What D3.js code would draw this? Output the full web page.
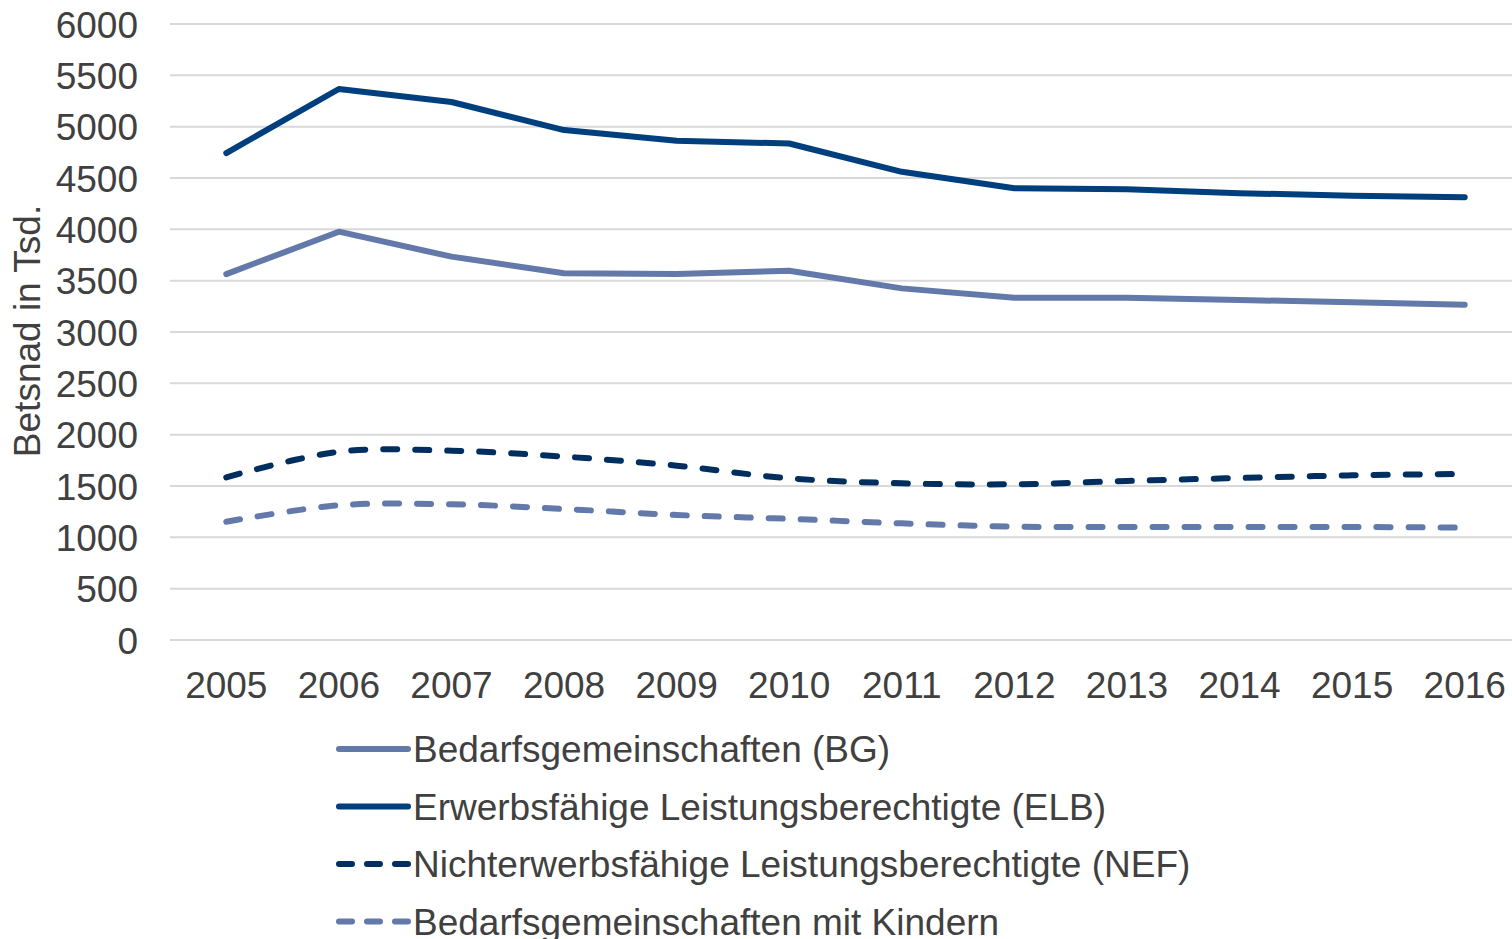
<!DOCTYPE html>
<html>
<head>
<meta charset="utf-8">
<script src="https://cdn.jsdelivr.net/npm/d3@7"></script>
<style>
    body { margin: 0; background: #fff; overflow: hidden; }
    text { font-family: "Liberation Sans", Arial, sans-serif; fill: #404040; }
</style>
</head>
<body>
<div id="chart"></div>
<script>
// Data (values in thousands)
const years = ["2005", "2006", "2007", "2008", "2009", "2010", "2011", "2012", "2013", "2014", "2015", "2016"];
const bg = [3564, 3977, 3734, 3572, 3565, 3597, 3425, 3334, 3334, 3312, 3289, 3266];
const elb = [4743, 5367, 5240, 4967, 4862, 4836, 4560, 4400, 4390, 4352, 4328, 4313];
const nef = [1584, 1834, 1844, 1786, 1698, 1575, 1526, 1517, 1549, 1578, 1604, 1617];
const bgKinder = [1152, 1312, 1322, 1276, 1218, 1180, 1136, 1104, 1101, 1101, 1101, 1094];
const yTicks = [0, 500, 1000, 1500, 2000, 2500, 3000, 3500, 4000, 4500, 5000, 5500, 6000];

const seriesNames = [
    "Bedarfsgemeinschaften (BG)",
    "Erwerbsfähige Leistungsberechtigte (ELB)",
    "Nichterwerbsfähige Leistungsberechtigte (NEF)",
    "Bedarfsgemeinschaften mit Kindern"
];

// Series styling
const series = [
    { name: seriesNames[0], values: bg, color: "#6379aa", dashed: false },
    { name: seriesNames[1], values: elb, color: "#003f7d", dashed: false },
    { name: seriesNames[2], values: nef, color: "#002f5f", dashed: true },
    { name: seriesNames[3], values: bgKinder, color: "#6379aa", dashed: true }
];

const width = 1512, height = 939;
const plot = { left: 170, right: 1521, top: 24, bottom: 640 };
const fontSize = "37px";

const svg = d3.select("#chart").append("svg")
    .attr("width", width)
    .attr("height", height);

// Scales
const x = d3.scaleBand()
    .domain(years)
    .range([plot.left, plot.right]);

const y = d3.scaleLinear()
    .domain([0, 6000])
    .range([plot.bottom, plot.top]);

// Gridlines
svg.append("g")
    .selectAll("line")
    .data(yTicks)
    .enter()
    .append("line")
    .attr("x1", plot.left)
    .attr("x2", plot.right)
    .attr("y1", d => y(d))
    .attr("y2", d => y(d))
    .attr("stroke", "#d9d9d9")
    .attr("stroke-width", 2);

// Y axis labels
const yAxis = d3.axisLeft(y).tickValues(yTicks).tickFormat(d3.format("d")).tickSize(0).tickPadding(0);
const yAxisGroup = svg.append("g")
    .attr("transform", `translate(138,0)`)
    .call(yAxis);
yAxisGroup.select(".domain").remove();
yAxisGroup.selectAll("text")
    .attr("font-size", fontSize)
    .attr("fill", "#404040")
    .attr("font-family", "Liberation Sans, Arial, sans-serif")
    .attr("dy", "0.36em");

// X axis labels
const xAxis = d3.axisBottom(x).tickSize(0).tickPadding(0);
const xAxisGroup = svg.append("g")
    .attr("transform", `translate(0,${plot.bottom})`)
    .call(xAxis);
xAxisGroup.select(".domain").remove();
xAxisGroup.selectAll("text")
    .attr("font-size", fontSize)
    .attr("fill", "#404040")
    .attr("font-family", "Liberation Sans, Arial, sans-serif")
    .attr("y", 45)
    .attr("dy", "0.36em");

// Y axis title
svg.append("text")
    .attr("transform", `translate(40,331) rotate(-90)`)
    .attr("text-anchor", "middle")
    .attr("font-size", "37px")
    .text("Betsnad in Tsd.");

// Lines
const cx = d => x(d) + x.bandwidth() / 2;
const straight = d3.line()
    .x((d, i) => cx(years[i]))
    .y(d => y(d));
const smooth = d3.line()
    .x((d, i) => cx(years[i]))
    .y(d => y(d))
    .curve(d3.curveCatmullRom.alpha(0.5));

svg.append("g")
    .selectAll("path")
    .data(series)
    .enter()
    .append("path")
    .attr("d", d => d.dashed ? smooth(d.values) : straight(d.values))
    .attr("fill", "none")
    .attr("stroke", d => d.color)
    .attr("stroke-width", 6)
    .attr("stroke-linecap", "round")
    .attr("stroke-linejoin", "round")
    .attr("stroke-dasharray", d => d.dashed ? "14 18" : null);

// Legend
const legend = svg.append("g")
    .selectAll("g")
    .data(series)
    .enter()
    .append("g")
    .attr("transform", (d, i) => `translate(336,${749 + i * 57.5})`);

legend.append("line")
    .attr("x1", 3)
    .attr("x2", 72)
    .attr("stroke", d => d.color)
    .attr("stroke-width", 6)
    .attr("stroke-linecap", "round")
    .attr("stroke-dasharray", d => d.dashed ? "13 15" : null);

legend.append("text")
    .attr("x", 77)
    .attr("dy", "0.36em")
    .attr("font-size", fontSize)
    .text(d => d.name);
</script>
</body>
</html>
